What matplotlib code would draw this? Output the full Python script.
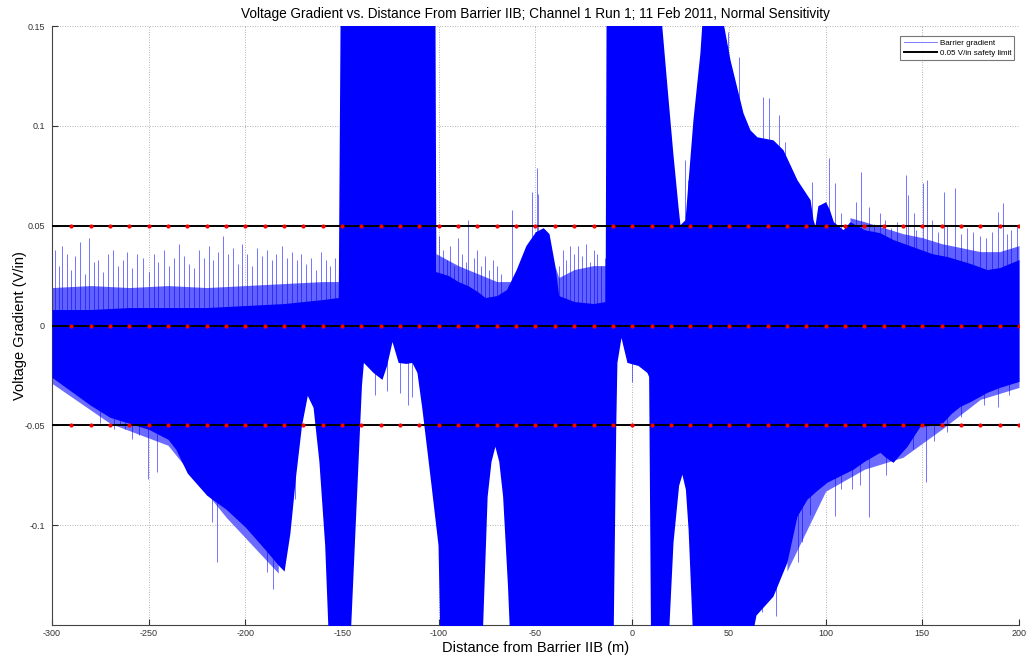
import numpy as np
import matplotlib
matplotlib.use("Agg")
import matplotlib.pyplot as plt
from matplotlib.lines import Line2D

plt.rcParams['font.family'] = ['Liberation Sans', 'DejaVu Sans']

# ---- signal envelope (solid band of the oscillating gradient) ----
upper_x = [-300, -280, -260, -240, -220, -200, -180, -160, -152, -151, -102, -101.5,
           -95, -90, -85, -80, -76, -70, -65, -60, -55, -50, -46, -43, -40, -38,
           -30, -20, -14, -13.5, 14.4, 18, 21, 23.7, 24.7, 27.3, 31.4, 35, 36.6,
           45.4, 50.6, 57.3, 60.9, 64.5, 72.8, 78, 85.2, 92, 93.5, 94.5, 96, 100,
           102, 104, 109, 112.6, 120, 128, 135, 145, 155, 163, 175, 183.4, 190, 200]
upper_y = [0.008, 0.008, 0.009, 0.009, 0.009, 0.010, 0.011, 0.013, 0.014, 0.16, 0.16, 0.027,
           0.025, 0.022, 0.020, 0.017, 0.014, 0.015, 0.018, 0.028, 0.040, 0.047, 0.049, 0.046, 0.030, 0.015,
           0.012, 0.011, 0.012, 0.16, 0.16, 0.1195, 0.0865, 0.0595, 0.0505, 0.053, 0.103, 0.1365, 0.16,
           0.16, 0.133, 0.1065, 0.098, 0.0945, 0.093, 0.088, 0.073, 0.063, 0.053, 0.050, 0.060, 0.062,
           0.058, 0.052, 0.048, 0.052, 0.048, 0.0465, 0.043, 0.0395, 0.036, 0.0345, 0.031, 0.028, 0.029, 0.033]

lower_x = [-300, -290, -280, -270, -260, -250, -240, -236, -230, -220, -210, -200, -190,
           -183, -180, -177, -174, -171, -168, -165, -162, -159, -157, -146, -143, -140,
           -139, -134, -129.4, -127, -124.2, -121, -117, -113.9, -111.3, -108.7, -104, -100.4,
           -99.4, -77.7, -75, -73, -71, -69, -67, -64.5, -63.2, -9.9, -8.5, -7.9, -5.8,
           -2.7, 3, 7.6, 8.5, 9.5, 18.5, 21.1, 24, 25.7, 27.5, 28.9, 31.4, 61, 64, 72.8,
           80, 85.2, 90.4, 95, 100.7, 110, 114.2, 120, 128.1, 131, 134.9, 138, 142.1, 148.8,
           155, 160.7, 165, 169.5, 175, 183.4, 190, 200]
lower_y = [-0.026, -0.033, -0.040, -0.046, -0.049, -0.052, -0.057, -0.062, -0.074, -0.085, -0.092, -0.101, -0.112,
           -0.120, -0.123, -0.104, -0.075, -0.050, -0.035, -0.041, -0.068, -0.110, -0.16, -0.16, -0.095, -0.030,
           -0.0185, -0.0235, -0.027, -0.020, -0.008, -0.0185, -0.019, -0.0185, -0.0235, -0.042, -0.080, -0.110,
           -0.16, -0.16, -0.0855, -0.068, -0.0605, -0.068, -0.0855, -0.13, -0.16, -0.16, -0.05, -0.0185, -0.006,
           -0.0185, -0.020, -0.0235, -0.0255, -0.16, -0.16, -0.1085, -0.080, -0.0745, -0.082, -0.102, -0.16, -0.16, -0.145, -0.1355,
           -0.1185, -0.0955, -0.087, -0.083, -0.0785, -0.074, -0.072, -0.068, -0.0635, -0.066, -0.0685, -0.065, -0.0605, -0.0505,
           -0.050, -0.0485, -0.044, -0.0405, -0.038, -0.0335, -0.031, -0.028]

# ---- dense fringe of thin oscillation lines above / below the solid band ----
fringe_up = [
    ([-300, -280, -260, -240, -220, -200, -180, -160, -151],
     [0.019, 0.020, 0.019, 0.020, 0.019, 0.020, 0.021, 0.022, 0.022]),
    ([-101.5, -90, -80, -70, -63],
     [0.036, 0.030, 0.026, 0.022, 0.022]),
    ([-40, -38, -30, -20, -13.5],
     [0.030, 0.024, 0.028, 0.030, 0.030]),
    ([112.6, 120, 130, 140, 150, 160, 170, 180, 190, 200],
     [0.054, 0.052, 0.049, 0.046, 0.044, 0.041, 0.039, 0.037, 0.037, 0.040]),
]
fringe_low = [
    ([-300, -270, -240, -210, -183],
     [-0.029, -0.049, -0.060, -0.096, -0.124]),
    ([80, 100, 120, 140, 160, 180, 200],
     [-0.123, -0.083, -0.072, -0.066, -0.052, -0.037, -0.031]),
]

# ---- isolated spikes (distance, peak) ----
spike_up_x = [-298.5, -296.5, -295, -292.5, -290, -288, -285.5, -283, -281, -278.5, -276, -273.5,
              -271, -268.5, -266, -263.5, -261, -258.5, -256, -253, -250, -247.5, -245, -242,
              -239.5, -237, -234.5, -232, -229, -226.5, -224, -221.5, -219, -216.5, -214, -211.5,
              -209, -206.5, -204, -201.5, -199, -196.5, -194, -191.5, -189, -186.5, -184, -181,
              -178.5, -176, -173.5, -171, -168.5, -166, -163.5, -161, -158.5, -156, -153.5,
              -100, -98, -96, -94, -92, -90, -88, -86, -84.9, -82, -80, -78, -76, -74, -72, -70,
              -68, -62.2, -51.8, -49.2, -48.5, -38, -36, -34, -32, -30, -28, -26, -24, -22, -20,
              -18, -16, -14,
              15.4, 20.6, 27.3, 28.8, 49.5, 55.2, 67.6, 70.5, 75.9, 79, 93, 101.8, 104.9, 108,
              111, 115.7, 118.3, 122.4, 125, 128.1, 130.7, 134, 137, 141.6, 142.6, 145.7, 147,
              150.4, 152.4, 155, 158, 161.2, 163, 166.9, 170, 173, 176.2, 180, 183, 186, 189.1,
              191.7, 194, 196, 199]
spike_up_top = [0.038, 0.030, 0.040, 0.036, 0.028, 0.035, 0.042, 0.026, 0.044, 0.032, 0.033, 0.027,
                0.036, 0.038, 0.030, 0.033, 0.037, 0.029, 0.036, 0.034, 0.027, 0.036, 0.032, 0.038,
                0.030, 0.034, 0.041, 0.035, 0.031, 0.029, 0.038, 0.034, 0.040, 0.033, 0.037, 0.045,
                0.036, 0.039, 0.031, 0.041, 0.036, 0.030, 0.039, 0.035, 0.038, 0.033, 0.036, 0.040,
                0.034, 0.037, 0.033, 0.036, 0.031, 0.034, 0.028, 0.037, 0.033, 0.030, 0.034,
                0.045, 0.038, 0.033, 0.040, 0.030, 0.044, 0.036, 0.032, 0.053, 0.034, 0.038, 0.030, 0.035, 0.028, 0.033, 0.030,
                0.026, 0.058, 0.067, 0.079, 0.066, 0.030, 0.038, 0.033, 0.040, 0.036, 0.040, 0.035, 0.041, 0.032, 0.038,
                0.036, 0.030, 0.034,
                0.140, 0.087, 0.083, 0.073, 0.147, 0.1345, 0.1145, 0.114, 0.1055, 0.092, 0.072, 0.084, 0.0715, 0.0565,
                0.050, 0.062, 0.077, 0.0595, 0.051, 0.0565, 0.053, 0.049, 0.052, 0.0755, 0.0655, 0.0565, 0.048,
                0.0715, 0.073, 0.053, 0.047, 0.067, 0.050, 0.069, 0.046, 0.049, 0.047, 0.045, 0.044, 0.047, 0.057,
                0.0615, 0.046, 0.048, 0.0505]

spike_down_x = [-275, -268, -265, -262, -258.6, -255, -250.4, -245.7, -217.3, -214.7, -188.8, -185.7,
                -174.4, -133, -127, -120, -116, -114, 0, 67.1, 74.4, 85.7, 87.8, 92, 104.9, 108,
                113.7, 118, 122.4, 131, 145, 151.9, 156, 162.8, 170, 182, 189.1, 195]
spike_down_bot = [-0.049, -0.052, -0.050, -0.052, -0.057, -0.055, -0.077, -0.0735, -0.0985, -0.1185, -0.1235, -0.132,
                  -0.087, -0.035, -0.033, -0.034, -0.040, -0.036, -0.0285, -0.1435, -0.1455, -0.1185, -0.1085, -0.095, -0.0955, -0.082,
                  -0.082, -0.080, -0.096, -0.075, -0.062, -0.0785, -0.058, -0.0535, -0.046, -0.040, -0.041, -0.035]

# ---- safety limits ----
limit_levels = [0.05, 0.0, -0.05]
marker_x = np.arange(-290, 201, 10)

x_ticks = [-300, -250, -200, -150, -100, -50, 0, 50, 100, 150, 200]
x_tick_labels = ["-300", "-250", "-200", "-150", "-100", "-50", "0", "50", "100", "150", "200"]
y_ticks = [-0.1, -0.05, 0.0, 0.05, 0.1, 0.15]
y_tick_labels = ["-0.1", "-0.05", "0", "0.05", "0.1", "0.15"]

BLUE = '#0000ff'

fig = plt.figure(figsize=(10.28, 6.60), dpi=100)
ax = fig.add_axes([52 / 1028, 35 / 660, 967 / 1028, 599 / 660])

# thin fringe lines (lighter because they are single-pixel strokes)
for fx, fy in fringe_up:
    ax.fill_between(fx, 0, fy, color=(0.38, 0.38, 1.0), lw=0, zorder=2)
for fx, fy in fringe_low:
    ax.fill_between(fx, fy, 0, color=(0.42, 0.42, 1.0), lw=0, zorder=2)

ax.vlines(spike_up_x, 0, spike_up_top, color=BLUE, lw=0.7, alpha=0.55, zorder=2)
ax.vlines(spike_down_x, spike_down_bot, 0, color=BLUE, lw=0.7, alpha=0.55, zorder=2)

# solid band
ax.fill_between(upper_x, 0, upper_y, color=BLUE, lw=0, zorder=3)
ax.fill_between(lower_x, lower_y, 0, color=BLUE, lw=0, zorder=3)

# limit lines with red markers
for lvl in limit_levels:
    ax.axhline(lvl, color='black', lw=1.4, zorder=4)
    ax.plot(marker_x, np.full(len(marker_x), lvl), ls='none', marker='.', ms=4,
            color='red', zorder=5)

ax.set_xlim(-300, 200)
ax.set_ylim(-0.15, 0.15)
ax.set_xticks(x_ticks)
ax.set_xticklabels(x_tick_labels)
ax.set_yticks(y_ticks)
ax.set_yticklabels(y_tick_labels)
ax.tick_params(direction='in', length=4, width=0.8, labelsize=6.5, colors='#333333')
ax.tick_params(axis='x', pad=3)
ax.tick_params(axis='y', pad=5)
ax.grid(True, ls=(0, (1, 2)), color='#9a9a9a', lw=0.6)
ax.set_axisbelow(True)
for side in ('top', 'right'):
    ax.spines[side].set_visible(False)
for side in ('left', 'bottom'):
    ax.spines[side].set_color('#444444')
    ax.spines[side].set_linewidth(0.8)

ax.set_title("Voltage Gradient vs. Distance From Barrier IIB; Channel 1 Run 1; 11 Feb 2011, Normal Sensitivity",
             fontsize=9.8, pad=6)
ax.set_xlabel("Distance from Barrier IIB (m)", fontsize=10.5, labelpad=2)
ax.set_ylabel("Voltage Gradient (V/in)", fontsize=10.5, labelpad=-2)

handles = [Line2D([0], [0], color=BLUE, lw=0.6, alpha=0.6),
           Line2D([0], [0], color='black', lw=1.4)]
leg = ax.legend(handles, ["Barrier gradient", "0.05 V/in safety limit"], loc='upper right',
                bbox_to_anchor=(0.9995, 0.99), fontsize=5.8, frameon=True, fancybox=False,
                handlelength=4.2, borderpad=0.4, labelspacing=0.25, handletextpad=0.3)
leg.get_frame().set_edgecolor('#555555')
leg.get_frame().set_linewidth(0.8)
leg.set_zorder(10)

fig.savefig("out.png", dpi=100)
